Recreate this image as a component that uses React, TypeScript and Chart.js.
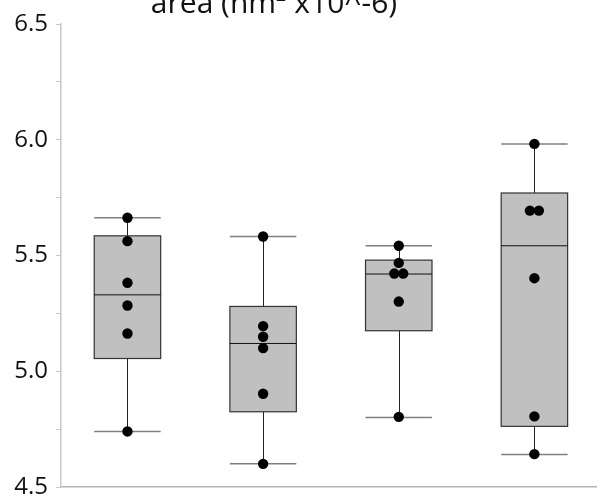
import React, { useEffect, useRef } from "react";
import { Chart, registerables } from "chart.js";

Chart.register(...registerables);

const groups = ["G1", "G2", "G3", "G4"];
const whiskerLow = [4.74, 4.6, 4.8, 4.64];
const q1 = [5.055, 4.825, 5.175, 4.762];
const median = [5.33, 5.12, 5.42, 5.542];
const q3 = [5.585, 5.28, 5.48, 5.77];
const whiskerHigh = [5.663, 5.582, 5.542, 5.982];
const points1 = [5.663, 5.562, 5.382, 5.284, 5.163, 4.74];
const points2 = [5.582, 5.195, 5.149, 5.1, 4.903, 4.6];
const points3 = [5.542, 5.468, 5.422, 5.422, 5.301, 4.803];
const points4 = [5.982, 5.694, 5.694, 5.402, 4.805, 4.642];
const yTicks = [4.5, 5.0, 5.5, 6.0, 6.5];
const titleText = "area (nm\u00B2 x10^-6)";

const allPoints = [points1, points2, points3, points4];
const BOX_W = 0.49;
const JITTER = 0.033;

function buildScatter() {
  const out: { x: number; y: number }[] = [];
  allPoints.forEach((arr, gi) => {
    const used = new Array(arr.length).fill(false);
    for (let i = 0; i < arr.length; i++) {
      if (used[i]) continue;
      const cluster = [i];
      for (let j = i + 1; j < arr.length; j++) {
        if (!used[j] && Math.abs(arr[j] - arr[i]) < 0.02) cluster.push(j);
      }
      cluster.forEach((k, ci) => {
        used[k] = true;
        const off = (ci - (cluster.length - 1) / 2) * 2 * JITTER;
        out.push({ x: gi + 1 + off, y: arr[k] });
      });
    }
  });
  return out;
}

const boxPlugin = {
  id: "boxes",
  beforeDatasetsDraw(chart: any) {
    const { ctx, scales } = chart;
    const x = scales.x;
    const y = scales.y;
    ctx.save();
    groups.forEach((_, i) => {
      const cx = x.getPixelForValue(i + 1);
      const l = x.getPixelForValue(i + 1 - BOX_W / 2);
      const r = x.getPixelForValue(i + 1 + BOX_W / 2);
      const yq1 = y.getPixelForValue(q1[i]);
      const yq3 = y.getPixelForValue(q3[i]);
      const ym = y.getPixelForValue(median[i]);
      const ylo = y.getPixelForValue(whiskerLow[i]);
      const yhi = y.getPixelForValue(whiskerHigh[i]);
      ctx.strokeStyle = "#222222";
      ctx.lineWidth = 1;
      ctx.beginPath();
      ctx.moveTo(Math.round(cx) + 0.5, yq3);
      ctx.lineTo(Math.round(cx) + 0.5, yhi);
      ctx.moveTo(Math.round(cx) + 0.5, yq1);
      ctx.lineTo(Math.round(cx) + 0.5, ylo);
      ctx.stroke();
      ctx.strokeStyle = "#808080";
      ctx.lineWidth = 1.5;
      ctx.beginPath();
      ctx.moveTo(l, yhi);
      ctx.lineTo(r, yhi);
      ctx.moveTo(l, ylo);
      ctx.lineTo(r, ylo);
      ctx.stroke();
      ctx.fillStyle = "#c0c0c0";
      ctx.fillRect(l, yq3, r - l, yq1 - yq3);
      ctx.strokeStyle = "#333333";
      ctx.lineWidth = 1.2;
      ctx.strokeRect(l, yq3, r - l, yq1 - yq3);
      ctx.strokeStyle = "#111111";
      ctx.lineWidth = 1;
      ctx.beginPath();
      ctx.moveTo(l, ym);
      ctx.lineTo(r, ym);
      ctx.stroke();
    });
    ctx.restore();
  },
  afterDraw(chart: any) {
    const { ctx } = chart;
    ctx.save();
    ctx.font = "30px 'Open Sans'";
    ctx.fillStyle = "#111111";
    ctx.textAlign = "center";
    ctx.textBaseline = "alphabetic";
    ctx.fillText(titleText, 274, 13);
    ctx.restore();
  },
};

export default function App() {
  const ref = useRef<HTMLCanvasElement>(null);
  useEffect(() => {
    if (!ref.current) return;
    const chart = new Chart(ref.current, {
      type: "scatter",
      data: {
        datasets: [
          {
            data: buildScatter(),
            backgroundColor: "#000000",
            borderWidth: 0,
            pointRadius: 5.2,
            pointHoverRadius: 5.2,
          },
        ],
      },
      options: {
        responsive: false,
        animation: false,
        devicePixelRatio: 1,
        layout: { padding: { top: 24, bottom: 15, left: 0, right: 0 } },
        plugins: { legend: { display: false }, tooltip: { enabled: false }, title: { display: false } },
        scales: {
          x: {
            type: "linear",
            min: 0.51,
            max: 4.46,
            ticks: { display: false },
            grid: { display: false, drawTicks: false, tickLength: 0 },
            border: { display: true, color: "#b4b4b4", width: 1.5 },
          },
          y: {
            type: "linear",
            min: 4.5,
            max: 6.5,
            afterFit: (axis: any) => {
              axis.width = 61;
              axis.paddingTop = 0;
              axis.paddingBottom = 0;
            },
            ticks: {
              stepSize: 0.25,
              color: "#111111",
              font: { family: "'Open Sans'", size: 24 },
              padding: 8,
              callback: (v: any) => {
                const n = Number(v);
                return yTicks.some((t) => Math.abs(t - n) < 1e-6) ? n.toFixed(1) : "";
              },
            },
            grid: { drawOnChartArea: false, drawTicks: true, tickLength: 5, color: "#c8c8c8" },
            border: { display: true, color: "#c8c8c8", width: 1.5 },
          },
        },
      },
      plugins: [boxPlugin],
    });
    return () => chart.destroy();
  }, []);
  return (
    <div style={{ position: "absolute", left: 0, top: 0, width: 602, height: 502 }}>
      <canvas ref={ref} width={602} height={502} />
    </div>
  );
}
